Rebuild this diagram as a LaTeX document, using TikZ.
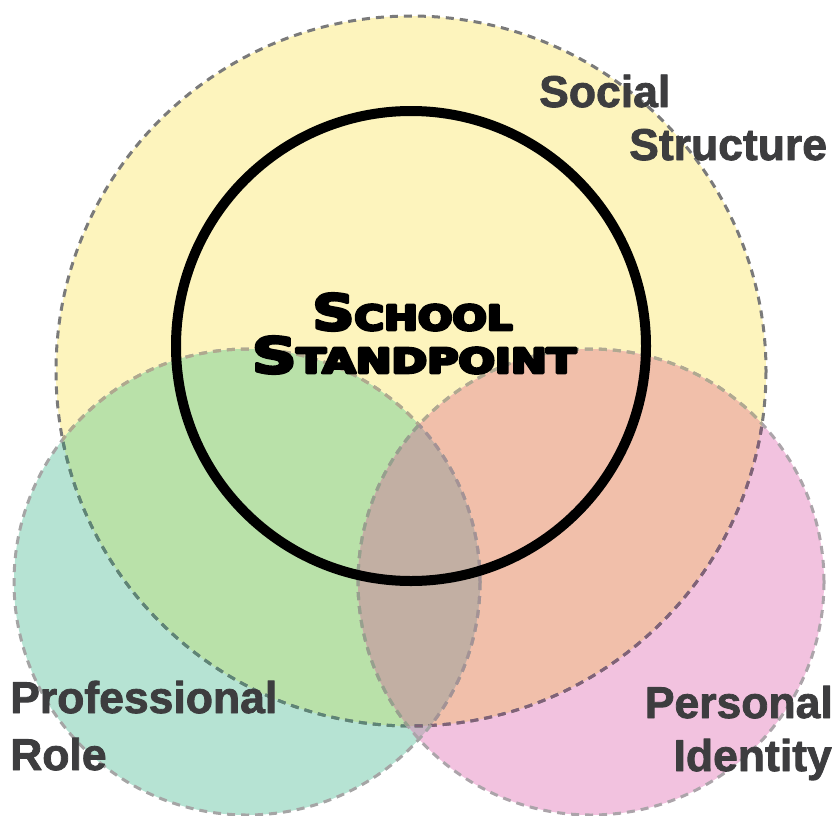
\documentclass[tikz,border=0pt]{standalone}
\usepackage{fontspec}
\usepackage{graphicx}
\setmainfont{Liberation Sans}
\newfontfamily\heavyfont{DejaVu Sans}
% heavier strokes: fill and outline each glyph with the given width
\newcommand\heavyon[1]{\special{pdf:literal direct 2 Tr #1 w 1 j}}
\newcommand\heavyoff{\special{pdf:literal direct 0 Tr}}

\definecolor{yellowfill}{HTML}{FDF4BD}
\definecolor{tealfill}{HTML}{B6E3D3}
\definecolor{pinkfill}{HTML}{F2C2DF}
\definecolor{greenfill}{HTML}{B9E1A9}
\definecolor{orangefill}{HTML}{F1BFAA}
\definecolor{lensfill}{HTML}{C2AFA3}
\definecolor{lensout}{HTML}{C9B3C3}
\definecolor{labelgray}{HTML}{3D3D3F}

\tikzset{
  ring/.style={dash pattern=on 8pt off 6pt, line width=3pt},
  label/.style={inner sep=0pt, text=labelgray, font=\bfseries\fontsize{44.5}{50}\selectfont},
  title/.style={inner sep=0pt, text=black}
}

\begin{document}
\begin{tikzpicture}[x=1pt,y=-1pt]
  \useasboundingbox (0,0) rectangle (835,816);

  % circle centres
  \coordinate (ys) at (411,371);   % social structure
  \coordinate (gp) at (247,582);   % professional role
  \coordinate (pp) at (591,582);   % personal identity
  \coordinate (sc) at (411,346);   % school standpoint

  \def\yr{355}
  \def\sr{233}

  % base fills
  \fill[yellowfill] (ys) circle[radius=\yr];
  \fill[tealfill] (gp) circle[radius=\sr];
  \fill[pinkfill] (pp) circle[radius=\sr];

  % overlaps with the social structure circle
  \begin{scope}
    \clip (ys) circle[radius=\yr];
    \fill[greenfill] (gp) circle[radius=\sr];
    \fill[orangefill] (pp) circle[radius=\sr];
  \end{scope}

  % lens shared by the two lower circles
  \begin{scope}
    \clip (gp) circle[radius=\sr];
    \fill[lensout] (pp) circle[radius=\sr];
    \clip (ys) circle[radius=\yr];
    \fill[lensfill] (pp) circle[radius=\sr];
  \end{scope}

  % dashed outlines, tinted where they pass under other fills
  \draw[ring, color={rgb,255:red,122;green,122;blue,122}] (ys) circle[radius=\yr];
  \begin{scope}
    \clip (gp) circle[radius=\sr];
    \draw[ring, color={rgb,255:red,94;green,133;blue,118}] (ys) circle[radius=\yr];
  \end{scope}
  \begin{scope}
    \clip (pp) circle[radius=\sr];
    \draw[ring, color={rgb,255:red,128;green,98;blue,120}] (ys) circle[radius=\yr];
  \end{scope}

  \draw[ring, color={rgb,255:red,165;green,165;blue,165}] (gp) circle[radius=\sr];
  \draw[ring, color={rgb,255:red,172;green,164;blue,170}] (pp) circle[radius=\sr];
  \begin{scope}
    \clip (ys) circle[radius=\yr];
    \draw[ring, color={rgb,255:red,176;green,169;blue,142}] (gp) circle[radius=\sr];
    \draw[ring, color={rgb,255:red,176;green,169;blue,144}] (pp) circle[radius=\sr];
  \end{scope}
  \begin{scope}
    \clip (gp) circle[radius=\sr];
    \clip (ys) circle[radius=\yr];
    \draw[ring, color={rgb,255:red,150;green,160;blue,142}] (pp) circle[radius=\sr];
  \end{scope}
  \begin{scope}
    \clip (pp) circle[radius=\sr];
    \clip (ys) circle[radius=\yr];
    \draw[ring, color={rgb,255:red,164;green,146;blue,150}] (gp) circle[radius=\sr];
  \end{scope}

  % school standpoint ring
  \draw[line width=10pt, black] (sc) circle[radius=235];

  % central title in small caps
  \node[title, anchor=base] (school) at (412.5,330)
    {\scalebox{1.18}[1]{\heavyon{2.8}\heavyfont\bfseries\fontsize{49.4}{50}\selectfont S\fontsize{34.3}{40}\selectfont CHOOL\heavyoff}};
  \node[title, anchor=base] (standpoint) at (414,373)
    {\scalebox{1.25}[1]{\heavyon{2.8}\heavyfont\bfseries\fontsize{49.4}{50}\selectfont S\fontsize{34.3}{40}\selectfont TANDPOINT\heavyoff}};

  % circle labels
  \node[label, anchor=base west] (social) at (539,107) {\heavyon{0.8}Social\heavyoff};
  \node[label, anchor=base west] (structure) at (629,160) {\heavyon{0.8}Structure\heavyoff};
  \node[label, anchor=base west] (professional) at (10,713) {\heavyon{0.8}Professional\heavyoff};
  \node[label, anchor=base west] (role) at (10,770) {\heavyon{0.8}Role\heavyoff};
  \node[label, anchor=base east] (personal) at (833,718) {\heavyon{0.8}Personal\heavyoff};
  \node[label, anchor=base east] (identity) at (832,771) {\heavyon{0.8}Identity\heavyoff};
\end{tikzpicture}
\end{document}
